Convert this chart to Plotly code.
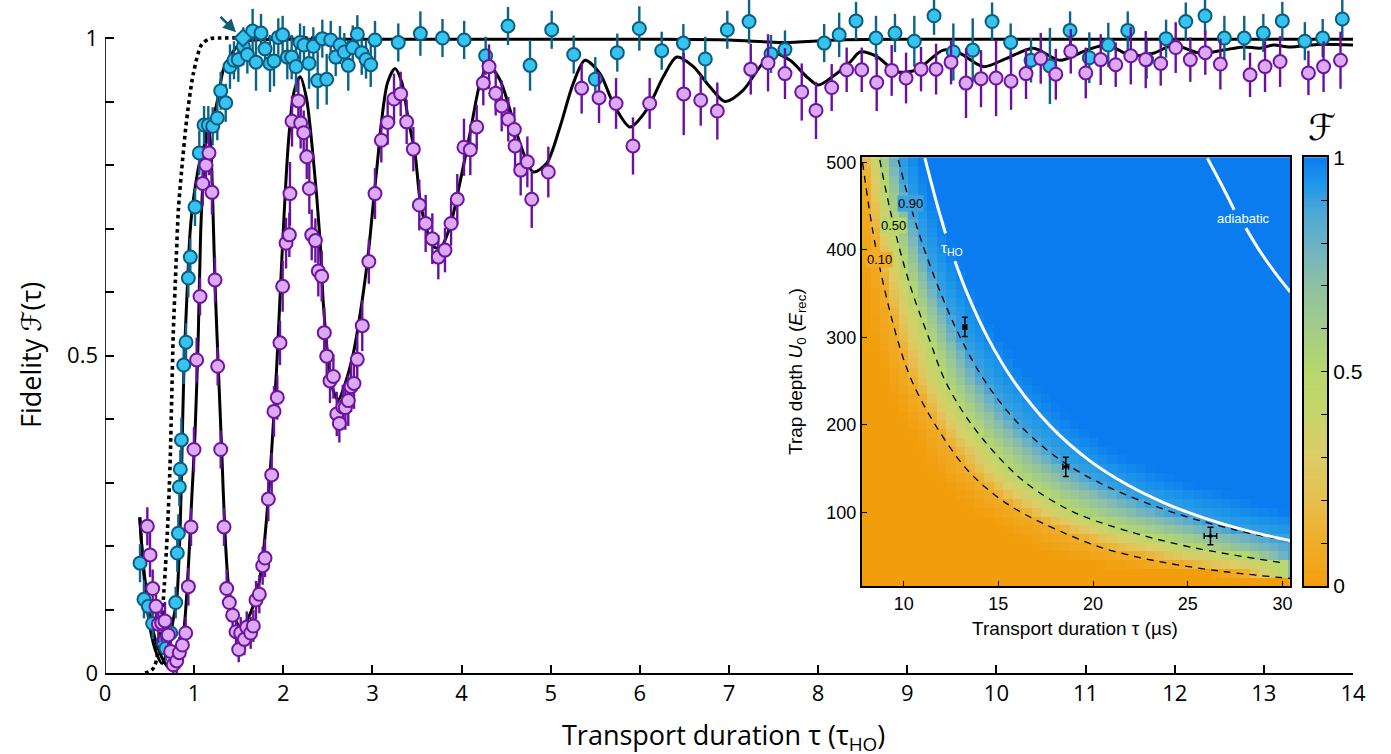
import numpy as np
import plotly.graph_objects as go

# ---------------- main panel: measured fidelity (tau in units of tau_HO, F, error) ----------------
fast_pts = [
    (0.393, 0.173, 0.03), (0.437, 0.116, 0.03), (0.486, 0.105, 0.025), (0.535, 0.078, 0.025),
    (0.654, 0.049, 0.02), (0.684, 0.039, 0.02), (0.737, 0.063, 0.025), (0.793, 0.111, 0.025),
    (0.811, 0.189, 0.03), (0.823, 0.220, 0.03), (0.834, 0.293, 0.03), (0.845, 0.321, 0.03),
    (0.857, 0.367, 0.035), (0.883, 0.485, 0.03), (0.909, 0.521, 0.03), (0.935, 0.622, 0.03),
    (0.957, 0.655, 0.03), (1.010, 0.734, 0.03), (1.058, 0.819, 0.035), (1.111, 0.863, 0.03),
    (1.159, 0.863, 0.03), (1.208, 0.861, 0.03), (1.260, 0.874, 0.035), (1.298, 0.917, 0.03),
    (1.354, 0.898, 0.03), (1.402, 0.955, 0.035), (1.447, 0.965, 0.03), (1.496, 0.966, 0.035),
    (1.552, 0.987, 0.03), (1.597, 0.974, 0.03), (1.656, 1.011, 0.035), (1.694, 0.962, 0.045),
    (1.750, 1.008, 0.03), (1.795, 0.983, 0.03), (1.851, 0.960, 0.045), (1.896, 0.964, 0.04),
    (1.944, 1.001, 0.03), (1.993, 1.005, 0.03), (2.045, 0.970, 0.035), (2.094, 0.970, 0.035),
    (2.143, 0.955, 0.04), (2.188, 0.993, 0.03), (2.232, 0.989, 0.03), (2.289, 0.960, 0.04),
    (2.337, 0.987, 0.03), (2.386, 0.933, 0.045), (2.438, 0.999, 0.03), (2.487, 0.935, 0.04),
    (2.532, 0.997, 0.03), (2.588, 0.970, 0.03), (2.636, 0.989, 0.03), (2.685, 0.978, 0.03),
    (2.729, 0.957, 0.04), (2.779, 0.985, 0.035), (2.831, 1.006, 0.03), (2.880, 0.977, 0.035),
    (2.928, 0.966, 0.03), (2.981, 0.958, 0.035), (3.029, 0.997, 0.03), (3.290, 0.993, 0.03),
    (3.538, 1.007, 0.035), (3.786, 1.000, 0.03), (4.029, 0.997, 0.03), (4.270, 0.972, 0.03),
    (4.521, 1.019, 0.03), (4.768, 0.957, 0.04), (5.011, 1.013, 0.03), (5.258, 0.974, 0.03),
    (5.500, 0.935, 0.035), (5.747, 0.977, 0.03), (5.994, 1.015, 0.035), (6.245, 0.980, 0.03),
    (6.488, 0.992, 0.03), (6.734, 0.967, 0.035), (6.981, 1.013, 0.03), (7.225, 1.026, 0.035),
    (7.471, 0.975, 0.03), (7.628, 0.982, 0.03), (8.068, 0.992, 0.03), (8.236, 1.005, 0.035),
    (8.425, 1.027, 0.03), (8.649, 1.000, 0.035), (8.862, 1.008, 0.03), (9.079, 0.995, 0.04),
    (9.300, 1.035, 0.03), (9.517, 0.978, 0.045), (9.734, 0.981, 0.05), (9.951, 1.026, 0.03),
    (10.160, 0.993, 0.03), (10.388, 0.965, 0.035), (10.600, 0.956, 0.06), (10.826, 1.012, 0.03),
    (11.042, 0.969, 0.04), (11.255, 0.989, 0.035), (11.473, 1.012, 0.03), (11.685, 0.966, 0.03),
    (11.903, 0.999, 0.03), (12.124, 1.026, 0.03), (12.340, 1.035, 0.03), (12.557, 1.000, 0.035),
    (12.780, 1.000, 0.035), (12.994, 1.008, 0.03), (13.207, 1.027, 0.03), (13.460, 0.995, 0.03),
    (13.660, 1.000, 0.03), (13.880, 1.030, 0.03),
]

slow_pts = [
    (0.475, 0.231, 0.03), (0.505, 0.186, 0.035), (0.535, 0.133, 0.03), (0.572, 0.105, 0.03),
    (0.598, 0.077, 0.03), (0.636, 0.079, 0.03), (0.673, 0.082, 0.03), (0.710, 0.060, 0.025),
    (0.737, 0.034, 0.025), (0.766, 0.013, 0.02), (0.804, 0.019, 0.02), (0.834, 0.032, 0.025),
    (0.868, 0.044, 0.025), (0.905, 0.063, 0.025), (0.935, 0.136, 0.03), (0.965, 0.230, 0.03),
    (0.998, 0.352, 0.035), (1.028, 0.493, 0.035), (1.066, 0.593, 0.03), (1.096, 0.771, 0.035),
    (1.133, 0.800, 0.035), (1.167, 0.819, 0.035), (1.200, 0.757, 0.035), (1.234, 0.619, 0.035),
    (1.264, 0.483, 0.03), (1.298, 0.352, 0.03), (1.335, 0.230, 0.03), (1.365, 0.133, 0.03),
    (1.395, 0.111, 0.03), (1.432, 0.091, 0.025), (1.470, 0.065, 0.025), (1.500, 0.037, 0.02),
    (1.522, 0.063, 0.025), (1.563, 0.053, 0.025), (1.590, 0.072, 0.025), (1.634, 0.063, 0.025),
    (1.664, 0.074, 0.025), (1.694, 0.115, 0.03), (1.731, 0.124, 0.03), (1.769, 0.169, 0.03),
    (1.795, 0.181, 0.03), (1.832, 0.274, 0.035), (1.870, 0.312, 0.035), (1.896, 0.412, 0.04),
    (1.933, 0.434, 0.035), (1.963, 0.520, 0.035), (1.993, 0.609, 0.04), (2.031, 0.677, 0.04),
    (2.068, 0.690, 0.035), (2.075, 0.755, 0.05), (2.098, 0.869, 0.04), (2.169, 0.901, 0.035),
    (2.195, 0.866, 0.04), (2.229, 0.851, 0.035), (2.263, 0.813, 0.035), (2.292, 0.763, 0.04),
    (2.319, 0.690, 0.04), (2.360, 0.681, 0.035), (2.393, 0.633, 0.04), (2.431, 0.625, 0.04),
    (2.460, 0.536, 0.04), (2.487, 0.499, 0.035), (2.524, 0.460, 0.035), (2.562, 0.467, 0.035),
    (2.600, 0.408, 0.035), (2.629, 0.393, 0.03), (2.667, 0.419, 0.035), (2.696, 0.418, 0.035),
    (2.729, 0.429, 0.04), (2.760, 0.451, 0.04), (2.793, 0.456, 0.04), (2.830, 0.494, 0.04),
    (2.886, 0.547, 0.04), (2.960, 0.648, 0.035), (3.029, 0.755, 0.04), (3.100, 0.839, 0.035),
    (3.171, 0.867, 0.035), (3.242, 0.904, 0.04), (3.317, 0.912, 0.035), (3.384, 0.868, 0.035),
    (3.459, 0.825, 0.035), (3.526, 0.737, 0.04), (3.597, 0.708, 0.045), (3.672, 0.684, 0.04),
    (3.739, 0.655, 0.035), (3.814, 0.666, 0.035), (3.882, 0.708, 0.035), (3.952, 0.746, 0.04),
    (4.027, 0.828, 0.045), (4.098, 0.824, 0.04), (4.170, 0.860, 0.035), (4.244, 0.929, 0.035),
    (4.308, 0.955, 0.035), (4.383, 0.913, 0.035), (4.450, 0.893, 0.04), (4.524, 0.872, 0.035),
    (4.592, 0.856, 0.035), (4.600, 0.830, 0.035), (4.663, 0.792, 0.04), (4.738, 0.805, 0.04),
    (4.787, 0.746, 0.045), (4.973, 0.789, 0.04), (5.347, 0.921, 0.04), (5.542, 0.906, 0.04),
    (5.733, 0.897, 0.04), (5.923, 0.830, 0.045), (6.110, 0.897, 0.04), (6.492, 0.912, 0.065),
    (6.683, 0.902, 0.04), (6.869, 0.885, 0.045), (7.244, 0.951, 0.04), (7.438, 0.961, 0.045),
    (7.628, 0.944, 0.04), (7.816, 0.915, 0.045), (7.976, 0.886, 0.045), (8.152, 0.922, 0.037),
    (8.320, 0.950, 0.035), (8.489, 0.950, 0.035), (8.657, 0.930, 0.045), (8.825, 0.949, 0.04),
    (8.986, 0.937, 0.04), (9.154, 0.951, 0.035), (9.323, 0.951, 0.04), (9.491, 0.962, 0.035),
    (9.659, 0.929, 0.055), (9.827, 0.936, 0.045), (9.996, 0.937, 0.06), (10.164, 0.932, 0.045),
    (10.332, 0.944, 0.04), (10.497, 0.968, 0.04), (10.666, 0.943, 0.04), (10.834, 0.979, 0.035),
    (11.002, 0.945, 0.04), (11.170, 0.966, 0.04), (11.338, 0.958, 0.035), (11.507, 0.972, 0.045),
    (11.675, 0.966, 0.045), (11.843, 0.960, 0.035), (12.011, 0.985, 0.04), (12.175, 0.966, 0.035),
    (12.343, 0.977, 0.035), (12.512, 0.959, 0.04), (12.845, 0.942, 0.035), (13.013, 0.955, 0.04),
    (13.182, 0.963, 0.04), (13.500, 0.945, 0.035), (13.670, 0.955, 0.04), (13.860, 0.965, 0.045),
]

# highlighted optimal point (diamond with arrow)
marked_pt = (1.548, 1.0)

# theory curves (knots, drawn as smooth splines)
fast_fit = [
    (0.39, 0.245), (0.44, 0.15), (0.50, 0.075), (0.58, 0.03), (0.64, 0.015), (0.70, 0.035),
    (0.76, 0.08), (0.804, 0.115), (0.841, 0.22), (0.860, 0.324), (0.886, 0.482), (0.917, 0.587),
    (0.954, 0.693), (0.991, 0.745), (1.085, 0.819), (1.178, 0.855), (1.271, 0.908), (1.327, 0.950),
    (1.402, 0.971), (1.477, 0.986), (1.552, 0.994), (1.70, 0.997), (2.2, 0.998), (3.0, 0.998),
    (4.0, 0.998), (5.0, 0.998), (6.0, 0.998), (7.0, 0.997), (7.6, 0.993), (8.2, 0.997),
    (9.0, 0.998), (10.0, 0.998), (11.0, 0.998), (12.0, 0.998), (13.0, 0.998), (14.0, 0.998),
]

slow_fit = [
    (0.39, 0.245), (0.43, 0.17), (0.486, 0.11), (0.55, 0.06), (0.62, 0.03), (0.69, 0.012),
    (0.75, 0.006), (0.81, 0.025), (0.879, 0.062), (0.935, 0.167), (0.972, 0.272), (1.01, 0.378),
    (1.047, 0.535), (1.073, 0.693), (1.11, 0.80), (1.148, 0.862), (1.18, 0.84), (1.205, 0.76),
    (1.234, 0.614), (1.271, 0.482), (1.309, 0.351), (1.346, 0.22), (1.383, 0.142), (1.44, 0.094),
    (1.514, 0.073), (1.59, 0.083), (1.683, 0.115), (1.758, 0.167), (1.814, 0.246), (1.87, 0.351),
    (1.926, 0.482), (1.971, 0.614), (2.008, 0.719), (2.06, 0.84), (2.12, 0.915), (2.19, 0.939),
    (2.26, 0.905), (2.33, 0.82), (2.412, 0.682), (2.449, 0.582), (2.505, 0.493), (2.56, 0.445),
    (2.617, 0.43), (2.68, 0.45), (2.785, 0.503), (2.88, 0.582), (2.954, 0.661), (3.01, 0.74),
    (3.066, 0.818), (3.104, 0.871), (3.17, 0.93), (3.253, 0.952), (3.33, 0.93), (3.403, 0.871),
    (3.478, 0.818), (3.534, 0.745), (3.609, 0.698), (3.683, 0.672), (3.76, 0.669), (3.87, 0.703),
    (3.98, 0.771), (4.095, 0.85), (4.207, 0.929), (4.30, 0.957), (4.431, 0.934), (4.543, 0.887),
    (4.656, 0.834), (4.805, 0.789), (4.955, 0.803), (5.104, 0.86), (5.254, 0.929), (5.385, 0.965),
    (5.553, 0.944), (5.702, 0.897), (5.89, 0.86), (6.077, 0.887), (6.263, 0.939), (6.414, 0.97),
    (6.6, 0.955), (6.787, 0.923), (6.955, 0.90), (7.16, 0.918), (7.348, 0.955), (7.497, 0.976),
    (7.685, 0.965), (7.872, 0.939), (8.0, 0.926), (8.17, 0.94), (8.358, 0.962), (8.47, 0.978),
    (8.657, 0.971), (8.88, 0.947), (9.106, 0.95), (9.404, 0.981), (9.59, 0.976), (9.853, 0.955),
    (10.116, 0.968), (10.414, 0.984), (10.713, 0.965), (11.013, 0.981), (11.24, 0.989), (11.5, 0.973),
    (11.76, 0.976), (11.985, 0.989), (12.28, 0.976), (12.545, 0.981), (12.77, 0.986), (12.957, 0.984),
    (13.106, 0.989), (13.29, 0.986), (13.6, 0.99), (14.0, 0.989),
]

ideal_fit = [
    (0.45, 0.0), (0.52, 0.004), (0.56, 0.012), (0.61, 0.05), (0.654, 0.115), (0.699, 0.22),
    (0.729, 0.325), (0.748, 0.43), (0.766, 0.535), (0.796, 0.64), (0.823, 0.729), (0.86, 0.792),
    (0.916, 0.871), (0.991, 0.944), (1.085, 0.99), (1.178, 0.999), (1.3, 1.0), (2.0, 1.0), (2.6, 1.0),
]

x_ticks = list(range(0, 15))
y_ticks = [0.0, 0.1, 0.2, 0.3, 0.4, 0.5, 0.6, 0.7, 0.8, 0.9, 1.0]
y_ticklabels = ["0", "", "", "", "", "0.5", "", "", "", "", "1"]

# ---------------- inset: fidelity map vs duration (us) and trap depth (E_rec) ----------------
# iso-fidelity contours (tau in us, U0 in E_rec)
c10_U = [500, 400, 300, 250, 200, 150, 120, 100, 80, 60, 44, 32, 24]
c10_t = [7.83, 8.55, 9.64, 10.44, 11.67, 13.30, 14.80, 16.20, 18.10, 20.40, 23.40, 27.00, 30.60]
c50_U = [503, 450, 400, 350, 300, 250, 200, 150, 125, 100, 80, 60, 42]
c50_t = [8.74, 9.24, 9.80, 10.48, 11.32, 12.20, 13.60, 15.60, 17.00, 19.00, 21.60, 25.20, 30.10]
c90_U = [503, 450, 400, 350, 300, 250, 200, 160, 130, 100, 80, 65]
c90_t = [9.72, 10.37, 11.10, 11.97, 12.99, 14.29, 16.12, 18.26, 20.70, 24.20, 27.50, 30.76]

# reference curves: one trap period, and the adiabatic limit (label gaps marked by None)
tho_t = [11.12, 11.79, 12.21, None, 12.71, 13.36, 14.43, 15.81, 17.68, 19.76, 21.93, 23.84, 25.65, 27.12, 28.49, 29.88, 30.77]
tho_U = [505, 450, 419, None, 387, 350, 300, 250, 200, 160, 130, 110, 95, 85, 77, 70, 66]
adia_t = [26.04, 26.8, 27.45, None, 28.07, 28.86, 29.75, 30.41]
adia_U = [505, 474, 446, None, 425, 397, 370, 352]

# measured optimal settings: tau, U0, tau error, U0 error
inset_tau = [13.23, 18.56, 26.20]
inset_U = [312, 152, 73]
inset_tau_err = [0.10, 0.15, 0.33]
inset_U_err = [11, 11, 10]

map_colors = [
    [0.00, "#f29e0c"], [0.10, "#f0ac28"], [0.20, "#e6bf50"], [0.30, "#dccd66"],
    [0.40, "#c8d46c"], [0.50, "#b6d86c"], [0.60, "#a4cc88"], [0.70, "#8ec0a4"],
    [0.80, "#6cb2c4"], [0.88, "#48a6d8"], [0.94, "#1d96ea"], [1.00, "#0a7cf0"],
]
label_bg = {0.9: "#3ea3dc", 0.5: "#b6d86c", 0.1: "#f0ac28"}

colorbar_ticks = [0, 0.1, 0.2, 0.3, 0.4, 0.5, 0.6, 0.7, 0.8, 0.9, 1.0]
colorbar_labels = ["0", "", "", "", "", "0.5", "", "", "", "", "1"]

# grid of map cells
grid_tau = np.arange(8.0, 30.51, 0.5)
grid_U = np.arange(20.0, 511.0, 10.0)


def sorted_pair(U, t):
    order = np.argsort(U)
    return np.asarray(U, float)[order], np.asarray(t, float)[order]


u10, t10 = sorted_pair(c10_U, c10_t)
u50, t50 = sorted_pair(c50_U, c50_t)
u90, t90 = sorted_pair(c90_U, c90_t)

fid_map = np.zeros((len(grid_U), len(grid_tau)))
for i, u in enumerate(grid_U):
    a = np.interp(u, u10, t10)
    b = max(np.interp(u, u50, t50), a + 0.3)
    c = max(np.interp(u, u90, t90), b + 0.3)
    lo = a - 0.8 * (b - a)
    hi = c + 1.2 * (c - b)
    fid_map[i] = np.interp(grid_tau, [lo, a, b, c, hi], [0.0, 0.1, 0.5, 0.9, 1.0])

# colour-bar strip
bar_levels = np.linspace(0, 1, 201)

# ---------------- styling ----------------
BLUE_FILL, BLUE_EDGE, BLUE_BAR = "#35c3f0", "#0b5d80", "#0b6488"
PURP_FILL, PURP_EDGE, PURP_BAR = "#dcaaf5", "#6e14a0", "#6a0fa0"
MAIN_FONT = "Open Sans, DejaVu Sans, sans-serif"
INSET_FONT = "Liberation Sans, Arial, sans-serif"

W, H = 1391, 754
L, R, T, B = 105, 38, 0, 81


def fx(p):
    return (p - L) / (W - L - R)


def fy(p):
    return (H - B - p) / (H - B - T)


fig = go.Figure()


def unzip(pts):
    cols = list(zip(*pts))
    return [list(c) for c in cols]


# theory lines
for pts, dash, width in [(ideal_fit, "dot", 3.6), (slow_fit, "solid", 3.0), (fast_fit, "solid", 3.0)]:
    xs, ys = unzip(pts)
    fig.add_trace(go.Scatter(x=xs, y=ys, mode="lines", line=dict(color="black", width=width, dash=dash,
                                                                  shape="spline", smoothing=0.8),
                             showlegend=False, hoverinfo="skip"))

# measured points
for pts, fill, edge, bar in [(fast_pts, BLUE_FILL, BLUE_EDGE, BLUE_BAR),
                             (slow_pts, PURP_FILL, PURP_EDGE, PURP_BAR)]:
    xs, ys, es = unzip(pts)
    fig.add_trace(go.Scatter(
        x=xs, y=ys, mode="markers",
        marker=dict(size=13, color=fill, line=dict(color=edge, width=2)),
        error_y=dict(type="data", array=es, visible=True, color=bar, thickness=2.4, width=0),
        showlegend=False))

fig.add_trace(go.Scatter(x=[marked_pt[0]], y=[marked_pt[1]], mode="markers",
                         marker=dict(symbol="diamond", size=13, color=BLUE_FILL,
                                     line=dict(color=BLUE_EDGE, width=2)),
                         showlegend=False))

# inset map
fig.add_trace(go.Heatmap(
    x=grid_tau, y=grid_U, z=fid_map, zmin=0, zmax=1, colorscale=map_colors,
    xaxis="x2", yaxis="y2", zsmooth=False, hoverinfo="skip", showscale=False))

for U, t in [(c10_U, c10_t), (c50_U, c50_t), (c90_U, c90_t)]:
    fig.add_trace(go.Scatter(x=t, y=U, mode="lines", xaxis="x2", yaxis="y2",
                             line=dict(color="black", width=1.3, dash="7px,6px", shape="spline"),
                             showlegend=False, hoverinfo="skip"))

for t, U in [(tho_t, tho_U), (adia_t, adia_U)]:
    fig.add_trace(go.Scatter(x=t, y=U, mode="lines", xaxis="x2", yaxis="y2", connectgaps=False,
                             line=dict(color="white", width=3, shape="spline"),
                             showlegend=False, hoverinfo="skip"))

fig.add_trace(go.Scatter(
    x=inset_tau, y=inset_U, mode="markers", xaxis="x2", yaxis="y2",
    marker=dict(size=4, color="black"),
    error_x=dict(type="data", array=inset_tau_err, color="black", thickness=1.5, width=3),
    error_y=dict(type="data", array=inset_U_err, color="black", thickness=1.5, width=3),
    showlegend=False, hoverinfo="skip"))

# colour scale strip drawn on its own small axes
fig.add_trace(go.Heatmap(
    x=[0.5], y=bar_levels, z=[[v] for v in bar_levels], zmin=0, zmax=1, colorscale=map_colors,
    xaxis="x3", yaxis="y3", zsmooth=False, showscale=False, hoverinfo="skip"))

# left spine of the main panel only spans 0..1
shapes = [dict(type="line", xref="x", yref="y", x0=0, x1=0, y0=0, y1=1,
               line=dict(color="black", width=1.6))]


def label(px, py, text, size, family, color="black", angle=0, **kw):
    return dict(x=fx(px), y=fy(py), xref="paper", yref="paper", showarrow=False,
                xanchor="center", yanchor="middle", textangle=angle, text=text,
                font=dict(size=size, family=family, color=color), **kw)


annotations = [
    label(723, 736, "Transport duration τ (τ<sub>HO</sub>)", 27, MAIN_FONT),
    label(30, 355, "Fidelity <i>ℱ</i>(τ)", 27, MAIN_FONT, angle=-90),
    dict(x=1.47, y=1.009, xref="x", yref="y", ax=-17, ay=-17, text="", showarrow=True,
         arrowhead=2, arrowsize=1, arrowwidth=2.6, arrowcolor="#0f5c7a"),
    label(1075, 628, "Transport duration τ (µs)", 19, INSET_FONT),
    label(797, 372, "Trap depth <i>U</i><sub>0</sub> (<i>E</i><sub>rec</sub>)", 19, INSET_FONT, angle=-90),
    label(1322, 127, "<i>ℱ</i>", 36, "DejaVu Sans, serif"),
    label(1243, 219, "adiabatic", 13, INSET_FONT, color="white"),
    label(952, 248, "τ<sub>HO</sub>", 15, INSET_FONT, color="white"),
]
for lvl, text, px, py in [(0.9, "0.90", 910, 203), (0.5, "0.50", 893, 225), (0.1, "0.10", 879, 259)]:
    annotations.append(label(px, py, text, 13, INSET_FONT, bgcolor=label_bg[lvl], borderpad=0))

inset_y_domain = [fy(586), fy(157.3)]

fig.update_layout(
    width=W, height=H, autosize=False,
    margin=dict(l=L, r=R, t=T, b=B, autoexpand=False),
    paper_bgcolor="white", plot_bgcolor="white",
    showlegend=False,
    xaxis=dict(range=[0, 14], domain=[0, 1], showline=True, linecolor="black", linewidth=1.6,
               ticks="inside", ticklen=8, tickwidth=1.5, tickcolor="black",
               tickvals=x_ticks, ticktext=[str(v) for v in x_ticks],
               tickfont=dict(size=22, family=MAIN_FONT, color="black"),
               showgrid=False, zeroline=False),
    yaxis=dict(range=[0, 1.0599], domain=[0, 1], showline=False,
               ticks="inside", ticklen=9, tickwidth=1.5, tickcolor="black",
               tickvals=y_ticks, ticktext=y_ticklabels, ticklabelstandoff=6,
               tickfont=dict(size=22, family=MAIN_FONT, color="black"),
               showgrid=False, zeroline=False),
    xaxis2=dict(domain=[fx(862), fx(1290)], anchor="y2", range=[7.8, 30.4],
                showline=True, mirror=True, linecolor="black", linewidth=2,
                ticks="inside", ticklen=5, tickwidth=1.2, tickcolor="black",
                tickvals=[10, 15, 20, 25, 30],
                tickfont=dict(size=18, family=INSET_FONT, color="black"),
                showgrid=False, zeroline=False),
    yaxis2=dict(domain=inset_y_domain, anchor="x2", range=[15.7, 506],
                showline=True, mirror=True, linecolor="black", linewidth=2,
                ticks="inside", ticklen=5, tickwidth=1.2, tickcolor="black",
                tickvals=[100, 200, 300, 400, 500],
                tickfont=dict(size=18, family=INSET_FONT, color="black"),
                showgrid=False, zeroline=False),
    xaxis3=dict(domain=[fx(1304), fx(1327)], anchor="y3", range=[0, 1],
                showline=True, mirror=True, linecolor="black", linewidth=2,
                showticklabels=False, ticks="", showgrid=False, zeroline=False),
    yaxis3=dict(domain=inset_y_domain, anchor="x3", side="right", range=[0, 1],
                showline=True, mirror=True, linecolor="black", linewidth=2,
                ticks="inside", ticklen=6, tickwidth=1.2, tickcolor="black",
                tickvals=colorbar_ticks, ticktext=colorbar_labels,
                tickfont=dict(size=21, family=INSET_FONT, color="black"),
                showgrid=False, zeroline=False),
    shapes=shapes,
    annotations=annotations,
)

fig.write_html("out.html")
